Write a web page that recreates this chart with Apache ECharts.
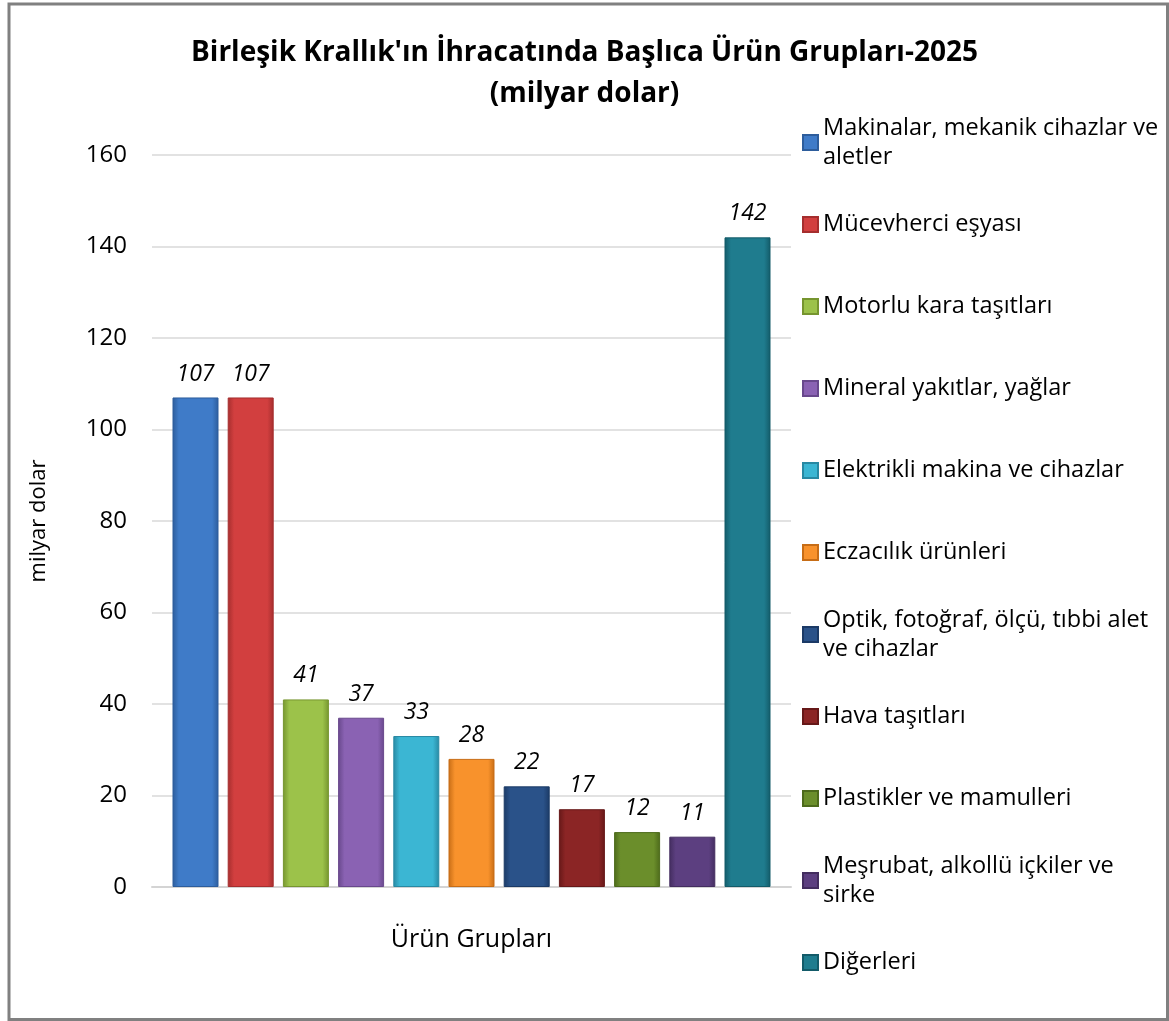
<!DOCTYPE html>
<html>
<head>
<meta charset="utf-8">
<script src="https://cdn.jsdelivr.net/npm/echarts@6/dist/echarts.min.js"></script>
<style>
html, body { margin: 0; padding: 0; background: #fff; }
#chart { width: 1169px; height: 1021px; }
</style>
</head>
<body>
<div id="chart"></div>
<script>
// data
const titleLines = ["Birleşik Krallık'ın İhracatında Başlıca Ürün Grupları-2025", '(milyar dolar)']
const productGroups = [
  'Makinalar, mekanik cihazlar ve aletler',
  'Mücevherci eşyası',
  'Motorlu kara taşıtları',
  'Mineral yakıtlar, yağlar',
  'Elektrikli makina ve cihazlar',
  'Eczacılık ürünleri',
  'Optik, fotoğraf, ölçü, tıbbi alet ve cihazlar',
  'Hava taşıtları',
  'Plastikler ve mamulleri',
  'Meşrubat, alkollü içkiler ve sirke',
  'Diğerleri'
]
const legendLabels = [
  'Makinalar, mekanik cihazlar ve\naletler',
  'Mücevherci eşyası',
  'Motorlu kara taşıtları',
  'Mineral yakıtlar, yağlar',
  'Elektrikli makina ve cihazlar',
  'Eczacılık ürünleri',
  'Optik, fotoğraf, ölçü, tıbbi alet\nve cihazlar',
  'Hava taşıtları',
  'Plastikler ve mamulleri',
  'Meşrubat, alkollü içkiler ve\nsirke',
  'Diğerleri'
]
const exportValues = [107, 107, 41, 37, 33, 28, 22, 17, 12, 11, 142]
const xAxisName = 'Ürün Grupları'
const yAxisName = 'milyar dolar'

const barColors = ['#3f7bc8', '#d23f3f', '#9cc24a', '#8a62b3', '#3bb6d3', '#f8922c', '#2a5289', '#8b2525', '#6b8e2b', '#5c3f80', '#1f7c8e']
const edgeColors = ['#2d5d9c', '#a52e2e', '#76952f', '#68488c', '#2889a3', '#c76d16', '#1b3a66', '#661818', '#4d6a1b', '#432d5f', '#135b69']

const FONT = '"Open Sans"'

const chart = echarts.init(document.getElementById('chart'))

const bevel = i => new echarts.graphic.LinearGradient(0, 0, 1, 0, [
  { offset: 0, color: edgeColors[i] },
  { offset: 0.14, color: barColors[i] },
  { offset: 0.86, color: barColors[i] },
  { offset: 1, color: edgeColors[i] }
])

const series = productGroups.map((name, i) => ({
  name,
  type: 'bar',
  data: [exportValues[i]],
  barWidth: 46,
  barGap: '20%',
  itemStyle: { color: bevel(i), borderColor: edgeColors[i], borderWidth: 1 },
  label: {
    show: true,
    position: 'top',
    distance: 12,
    fontStyle: 'italic',
    fontSize: 23,
    fontFamily: FONT,
    color: '#000'
  }
}))

const legends = productGroups.map((name, i) => {
  const twoLine = legendLabels[i].indexOf('\n') >= 0
  const cy = 142 + i * 82
  return {
    left: 802,
    top: cy - (twoLine ? 43 : 14),
    padding: 0,
    orient: 'vertical',
    data: [name],
    selectedMode: false,
    icon: 'rect',
    itemWidth: 15,
    itemHeight: 15,
    formatter: () => legendLabels[i],
    textStyle: {
      fontSize: 23.5,
      fontFamily: FONT,
      color: '#000',
      lineHeight: 29,
      padding: twoLine ? [29, 0, 0, 0] : 0
    }
  }
})

chart.setOption({
  animation: false,
  backgroundColor: '#fff',
  title: {
    text: titleLines.join('\n'),
    left: 'center',
    top: 33,
    padding: [0, 22, 0, 0],
    textStyle: { fontSize: 28, fontWeight: 'bold', fontFamily: FONT, color: '#000', lineHeight: 41 }
  },
  legend: legends,
  grid: { left: 152, right: 378, top: 155, bottom: 134 },
  xAxis: {
    type: 'category',
    data: [''],
    axisLine: { lineStyle: { color: '#d4d4d4', width: 2 } },
    axisTick: { show: false },
    axisLabel: { show: false },
    name: xAxisName,
    nameLocation: 'middle',
    nameGap: 40,
    nameTextStyle: { fontSize: 25, fontFamily: FONT, color: '#000' }
  },
  yAxis: {
    type: 'value',
    min: 0,
    max: 160,
    interval: 20,
    axisLine: { show: false },
    axisTick: { show: false },
    splitLine: { lineStyle: { color: '#d9d9d9', width: 1.5 } },
    axisLabel: { fontSize: 24, fontFamily: FONT, color: '#000', margin: 25 },
    name: yAxisName,
    nameLocation: 'middle',
    nameGap: 102,
    nameTextStyle: { fontSize: 22, fontFamily: FONT, color: '#000' }
  },
  graphic: [{
    type: 'rect',
    shape: { x: 9, y: 4, width: 1158.5, height: 1015.5 },
    style: { fill: 'none', stroke: '#808080', lineWidth: 3 },
    silent: true
  }],
  series
})
</script>
</body>
</html>
